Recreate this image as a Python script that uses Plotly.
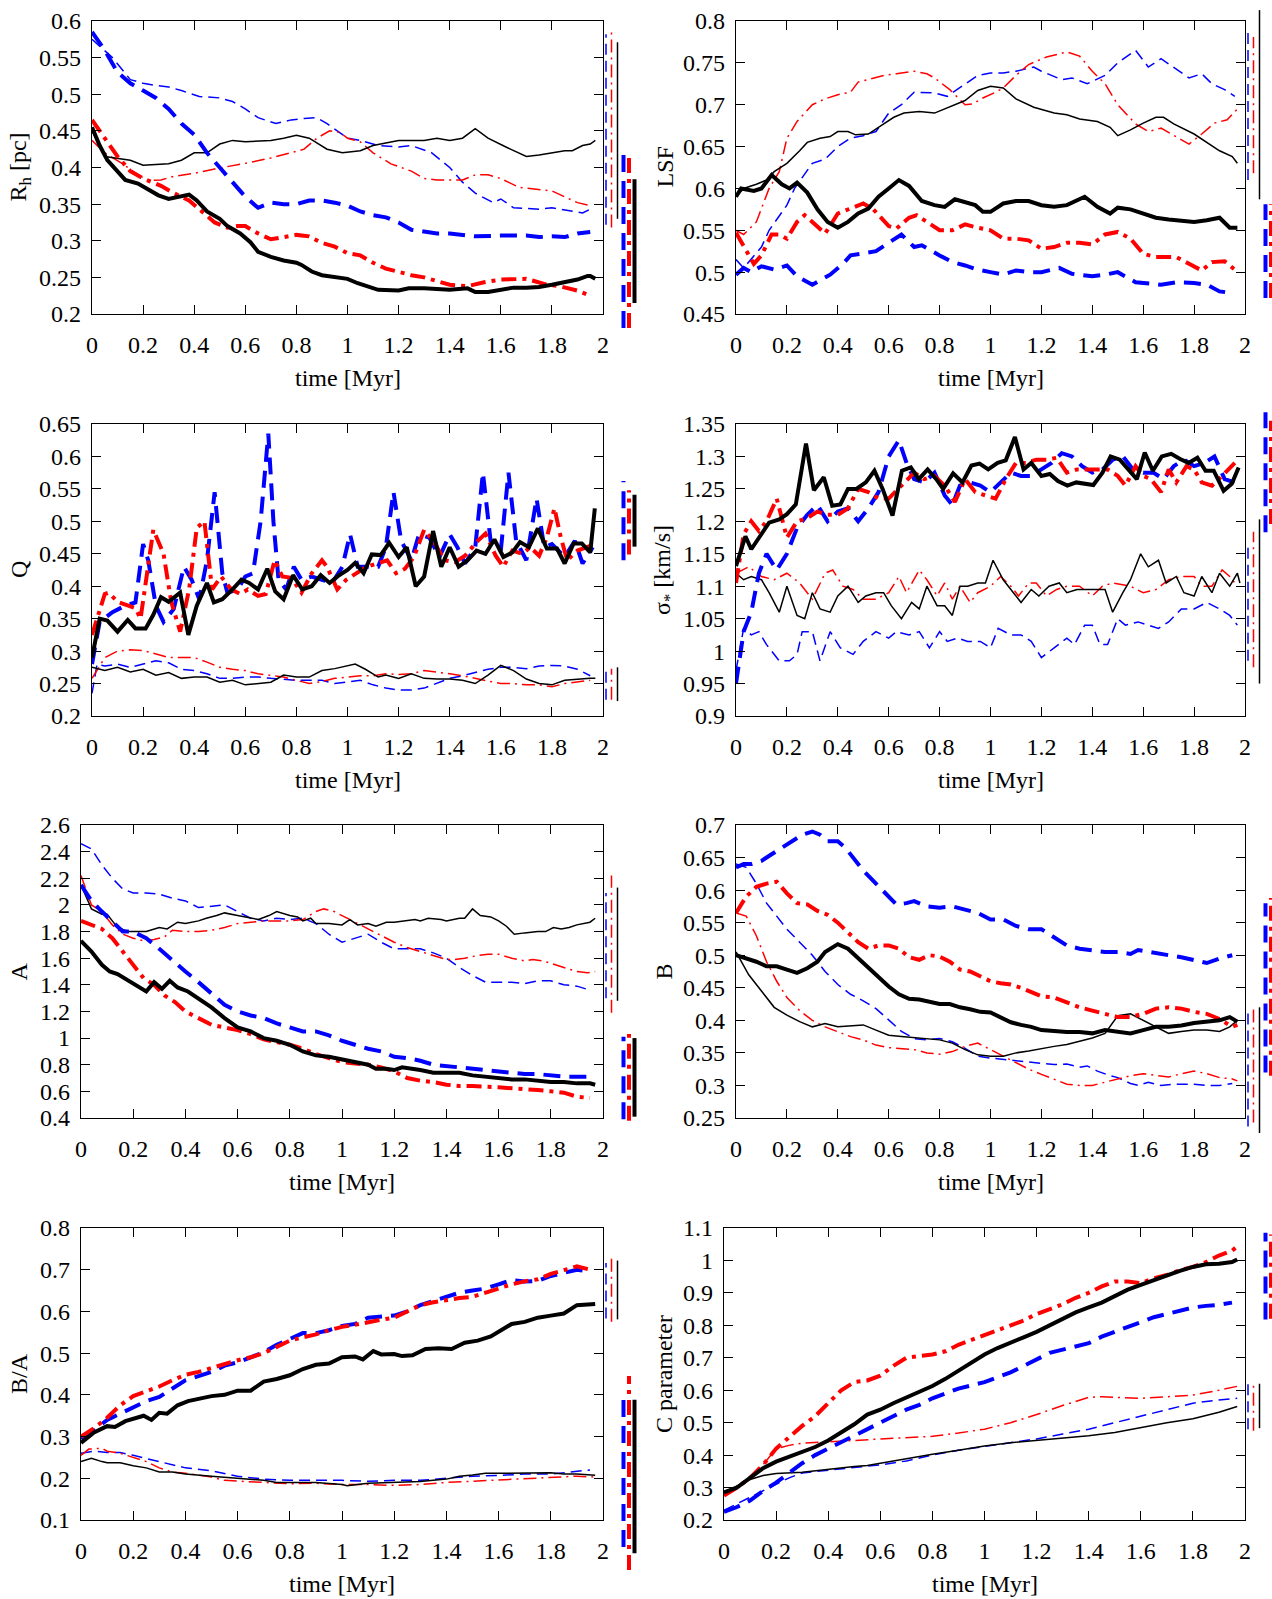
import plotly.graph_objects as go

W, H = 1272, 1599
FONT = "Liberation Serif"

X_TICKS = [0, 0.2, 0.4, 0.6, 0.8, 1.0, 1.2, 1.4, 1.6, 1.8, 2.0]
X_TICK_TEXT = ["0", "0.2", "0.4", "0.6", "0.8", "1", "1.2", "1.4", "1.6", "1.8", "2"]
X_TITLE = "time [Myr]"

# ---------------- Panel 1: R_h ----------------
RH_BLUE_THIN = [(0,0.575),(0.08,0.55),(0.15,0.52),(0.2,0.515),(0.25,0.512),(0.3,0.51),(0.35,0.505),(0.42,0.497),(0.5,0.495),(0.55,0.49),(0.6,0.48),(0.65,0.468),(0.72,0.46),(0.78,0.465),(0.83,0.467),(0.88,0.468),(0.92,0.46),(0.96,0.45),(1.0,0.44),(1.05,0.437),(1.12,0.43),(1.2,0.428),(1.25,0.43),(1.33,0.42),(1.4,0.4),(1.45,0.38),(1.5,0.365),(1.57,0.352),(1.6,0.357),(1.65,0.345),(1.75,0.343),(1.8,0.345),(1.88,0.34),(1.92,0.338),(1.95,0.343)]
RH_RED_THIN = [(0,0.437),(0.05,0.42),(0.12,0.405),(0.18,0.39),(0.22,0.382),(0.27,0.383),(0.32,0.388),(0.4,0.392),(0.48,0.398),(0.55,0.402),(0.62,0.407),(0.7,0.413),(0.78,0.42),(0.83,0.425),(0.88,0.44),(0.93,0.45),(0.97,0.448),(1.0,0.44),(1.05,0.435),(1.1,0.42),(1.17,0.405),(1.25,0.395),(1.3,0.385),(1.35,0.383),(1.45,0.383),(1.5,0.39),(1.55,0.39),(1.6,0.385),(1.67,0.373),(1.75,0.37),(1.8,0.368),(1.85,0.36),(1.9,0.352),(1.95,0.348)]
RH_BLACK_THIN = [(0,0.45),(0.05,0.415),(0.15,0.41),(0.2,0.403),(0.3,0.405),(0.35,0.41),(0.4,0.42),(0.45,0.42),(0.5,0.432),(0.55,0.437),(0.6,0.435),(0.7,0.437),(0.75,0.44),(0.8,0.444),(0.85,0.44),(0.92,0.425),(0.98,0.42),(1.05,0.423),(1.1,0.43),(1.2,0.437),(1.3,0.437),(1.35,0.44),(1.4,0.437),(1.45,0.44),(1.5,0.453),(1.55,0.44),(1.62,0.428),(1.7,0.415),(1.75,0.417),(1.8,0.42),(1.85,0.423),(1.88,0.423),(1.92,0.43),(1.95,0.432),(1.97,0.437)]
RH_BLUE_THICK = [(0,0.585),(0.05,0.56),(0.1,0.53),(0.15,0.515),(0.2,0.505),(0.25,0.495),(0.3,0.48),(0.35,0.46),(0.4,0.445),(0.45,0.42),(0.5,0.4),(0.55,0.38),(0.6,0.36),(0.65,0.345),(0.7,0.352),(0.75,0.35),(0.8,0.35),(0.85,0.355),(0.9,0.355),(0.95,0.352),(1.0,0.348),(1.05,0.34),(1.1,0.335),(1.15,0.332),(1.2,0.325),(1.25,0.315),(1.3,0.313),(1.35,0.31),(1.4,0.31),(1.45,0.308),(1.5,0.306),(1.6,0.307),(1.7,0.307),(1.75,0.305),(1.8,0.306),(1.85,0.305),(1.9,0.31),(1.95,0.312)]
RH_RED_THICK = [(0,0.465),(0.05,0.44),(0.1,0.415),(0.15,0.395),(0.2,0.385),(0.27,0.375),(0.32,0.365),(0.38,0.355),(0.43,0.34),(0.48,0.325),(0.53,0.318),(0.57,0.32),(0.6,0.32),(0.65,0.31),(0.7,0.302),(0.75,0.305),(0.8,0.308),(0.85,0.306),(0.9,0.297),(0.95,0.292),(1.0,0.283),(1.05,0.28),(1.1,0.27),(1.15,0.262),(1.2,0.257),(1.25,0.253),(1.3,0.25),(1.35,0.245),(1.4,0.24),(1.47,0.238),(1.53,0.243),(1.6,0.247),(1.65,0.248),(1.7,0.248),(1.73,0.245),(1.78,0.24),(1.83,0.238),(1.9,0.232),(1.95,0.225)]
RH_BLACK_THICK = [(0,0.455),(0.03,0.43),(0.06,0.41),(0.1,0.395),(0.13,0.383),(0.18,0.378),(0.22,0.37),(0.26,0.362),(0.3,0.357),(0.35,0.36),(0.38,0.363),(0.41,0.355),(0.45,0.34),(0.5,0.33),(0.53,0.32),(0.58,0.31),(0.62,0.298),(0.65,0.285),(0.7,0.278),(0.75,0.273),(0.8,0.27),(0.82,0.267),(0.86,0.258),(0.9,0.253),(0.95,0.25),(1.0,0.248),(1.04,0.242),(1.08,0.237),(1.12,0.233),(1.2,0.232),(1.24,0.235),(1.3,0.235),(1.35,0.234),(1.4,0.233),(1.47,0.235),(1.5,0.23),(1.55,0.23),(1.6,0.233),(1.65,0.236),(1.7,0.236),(1.75,0.237),(1.8,0.24),(1.85,0.243),(1.9,0.247),(1.94,0.252),(1.95,0.252),(1.97,0.248)]
RH_ERR = [(0.322,0.582),(0.318,0.586),(0.33,0.571),(0.181,0.418),(0.181,0.418),(0.215,0.384)]

# ---------------- Panel 2: LSF ----------------
LSF_BLUE_THIN = [(0,0.515),(0.03,0.505),(0.1,0.53),(0.13,0.55),(0.2,0.58),(0.23,0.6),(0.3,0.63),(0.35,0.635),(0.4,0.65),(0.45,0.66),(0.5,0.663),(0.55,0.668),(0.6,0.69),(0.65,0.7),(0.7,0.715),(0.78,0.714),(0.83,0.71),(0.88,0.72),(0.95,0.735),(1.0,0.738),(1.05,0.738),(1.1,0.74),(1.17,0.745),(1.2,0.74),(1.28,0.73),(1.32,0.732),(1.38,0.725),(1.45,0.735),(1.5,0.75),(1.57,0.765),(1.62,0.745),(1.67,0.755),(1.72,0.745),(1.78,0.732),(1.83,0.737),(1.87,0.725),(1.92,0.718),(1.96,0.71)]
LSF_RED_THIN = [(0,0.55),(0.03,0.545),(0.08,0.56),(0.13,0.6),(0.17,0.62),(0.2,0.66),(0.24,0.68),(0.3,0.7),(0.35,0.707),(0.4,0.712),(0.45,0.715),(0.48,0.727),(0.52,0.73),(0.58,0.735),(0.63,0.737),(0.7,0.74),(0.75,0.737),(0.78,0.732),(0.84,0.718),(0.9,0.7),(0.93,0.701),(0.97,0.708),(1.02,0.715),(1.05,0.72),(1.1,0.735),(1.15,0.748),(1.22,0.757),(1.28,0.762),(1.3,0.763),(1.35,0.758),(1.4,0.74),(1.45,0.725),(1.5,0.7),(1.57,0.677),(1.62,0.668),(1.67,0.672),(1.75,0.658),(1.78,0.653),(1.83,0.665),(1.88,0.678),(1.93,0.682),(1.97,0.695)]
LSF_BLACK_THIN = [(0,0.59),(0.03,0.6),(0.08,0.605),(0.12,0.61),(0.15,0.62),(0.2,0.63),(0.25,0.645),(0.28,0.655),(0.33,0.66),(0.37,0.662),(0.4,0.668),(0.44,0.668),(0.47,0.664),(0.52,0.665),(0.57,0.675),(0.62,0.685),(0.66,0.69),(0.72,0.692),(0.78,0.69),(0.82,0.695),(0.9,0.705),(0.95,0.717),(1.0,0.722),(1.05,0.72),(1.1,0.707),(1.17,0.697),(1.25,0.69),(1.3,0.688),(1.35,0.683),(1.42,0.68),(1.47,0.673),(1.5,0.663),(1.55,0.67),(1.6,0.678),(1.65,0.685),(1.68,0.685),(1.72,0.677),(1.8,0.665),(1.85,0.655),(1.9,0.645),(1.95,0.638),(1.97,0.63)]
LSF_BLUE_THICK = [(0,0.497),(0.03,0.505),(0.06,0.5),(0.1,0.507),(0.15,0.503),(0.2,0.508),(0.24,0.495),(0.3,0.485),(0.37,0.497),(0.42,0.51),(0.45,0.52),(0.5,0.523),(0.55,0.525),(0.6,0.535),(0.65,0.545),(0.7,0.53),(0.73,0.532),(0.8,0.52),(0.85,0.512),(0.9,0.508),(0.95,0.503),(1.0,0.5),(1.05,0.497),(1.1,0.502),(1.15,0.5),(1.2,0.5),(1.27,0.505),(1.32,0.498),(1.4,0.495),(1.45,0.497),(1.5,0.5),(1.57,0.488),(1.62,0.487),(1.67,0.485),(1.73,0.488),(1.8,0.487),(1.85,0.485),(1.9,0.477),(1.95,0.475)]
LSF_RED_THICK = [(0,0.547),(0.04,0.525),(0.07,0.51),(0.1,0.52),(0.14,0.545),(0.17,0.545),(0.2,0.54),(0.24,0.56),(0.27,0.568),(0.3,0.56),(0.35,0.546),(0.4,0.57),(0.44,0.575),(0.5,0.582),(0.54,0.575),(0.6,0.555),(0.63,0.552),(0.68,0.565),(0.71,0.568),(0.75,0.56),(0.8,0.55),(0.85,0.55),(0.9,0.557),(0.95,0.553),(1.0,0.55),(1.05,0.54),(1.1,0.54),(1.15,0.538),(1.2,0.528),(1.25,0.53),(1.3,0.535),(1.35,0.535),(1.4,0.533),(1.45,0.545),(1.5,0.548),(1.55,0.54),(1.6,0.522),(1.65,0.518),(1.7,0.518),(1.73,0.518),(1.78,0.51),(1.83,0.502),(1.87,0.512),(1.92,0.513),(1.96,0.503)]
LSF_BLACK_THICK = [(0,0.59),(0.02,0.6),(0.07,0.597),(0.1,0.6),(0.14,0.616),(0.18,0.605),(0.21,0.6),(0.24,0.607),(0.28,0.595),(0.32,0.575),(0.36,0.56),(0.4,0.553),(0.44,0.56),(0.48,0.57),(0.52,0.576),(0.56,0.59),(0.6,0.6),(0.64,0.61),(0.68,0.603),(0.73,0.585),(0.78,0.58),(0.82,0.578),(0.86,0.587),(0.9,0.583),(0.94,0.58),(0.97,0.572),(1.0,0.572),(1.05,0.582),(1.1,0.585),(1.15,0.585),(1.2,0.58),(1.25,0.578),(1.3,0.58),(1.37,0.59),(1.42,0.578),(1.47,0.57),(1.5,0.577),(1.55,0.575),(1.6,0.57),(1.65,0.565),(1.7,0.563),(1.75,0.562),(1.8,0.56),(1.85,0.562),(1.9,0.565),(1.94,0.553),(1.97,0.553)]
LSF_ERR = [(0.61,0.789),(0.618,0.781),(0.587,0.813),(0.469,0.581),(0.469,0.581),None]

# ---------------- Panel 3: Q ----------------
Q_BLUE_THIN = [(0,0.235),(0.02,0.28),(0.05,0.277),(0.1,0.28),(0.15,0.275),(0.2,0.28),(0.25,0.285),(0.3,0.282),(0.35,0.272),(0.4,0.27),(0.45,0.265),(0.5,0.258),(0.55,0.258),(0.6,0.26),(0.65,0.26),(0.7,0.258),(0.75,0.256),(0.8,0.255),(0.85,0.255),(0.9,0.255),(0.95,0.25),(1.0,0.252),(1.05,0.255),(1.1,0.248),(1.15,0.243),(1.2,0.24),(1.25,0.24),(1.3,0.243),(1.35,0.25),(1.4,0.258),(1.45,0.262),(1.5,0.267),(1.55,0.272),(1.6,0.275),(1.65,0.275),(1.7,0.273),(1.75,0.277),(1.8,0.278),(1.85,0.277),(1.9,0.272),(1.95,0.262)]
Q_RED_THIN = [(0,0.258),(0.05,0.29),(0.1,0.3),(0.15,0.302),(0.2,0.301),(0.25,0.295),(0.3,0.29),(0.35,0.29),(0.4,0.29),(0.45,0.283),(0.5,0.275),(0.55,0.272),(0.6,0.27),(0.65,0.265),(0.7,0.262),(0.75,0.26),(0.8,0.255),(0.85,0.25),(0.9,0.253),(0.95,0.258),(1.0,0.26),(1.05,0.262),(1.1,0.262),(1.15,0.265),(1.2,0.264),(1.25,0.265),(1.3,0.27),(1.35,0.268),(1.4,0.265),(1.45,0.262),(1.5,0.258),(1.55,0.253),(1.6,0.25),(1.65,0.25),(1.7,0.248),(1.75,0.248),(1.8,0.245),(1.85,0.25),(1.9,0.253),(1.95,0.255)]
Q_BLACK_THIN = [(0,0.275),(0.05,0.27),(0.1,0.275),(0.15,0.268),(0.2,0.272),(0.25,0.263),(0.3,0.267),(0.35,0.258),(0.4,0.26),(0.45,0.26),(0.5,0.252),(0.55,0.255),(0.6,0.248),(0.65,0.25),(0.7,0.252),(0.75,0.263),(0.8,0.26),(0.85,0.26),(0.9,0.27),(0.95,0.273),(1.0,0.277),(1.03,0.28),(1.07,0.272),(1.12,0.26),(1.15,0.263),(1.2,0.258),(1.25,0.265),(1.3,0.258),(1.35,0.257),(1.4,0.257),(1.45,0.255),(1.5,0.25),(1.55,0.263),(1.6,0.278),(1.65,0.27),(1.7,0.257),(1.75,0.25),(1.8,0.248),(1.85,0.255),(1.9,0.257),(1.95,0.258),(1.97,0.258)]
Q_BLUE_THICK = [(0,0.28),(0.03,0.345),(0.08,0.36),(0.13,0.37),(0.17,0.375),(0.2,0.465),(0.22,0.44),(0.25,0.37),(0.28,0.345),(0.32,0.365),(0.36,0.43),(0.39,0.41),(0.42,0.38),(0.45,0.44),(0.48,0.545),(0.51,0.42),(0.53,0.39),(0.57,0.395),(0.6,0.415),(0.63,0.42),(0.66,0.5),(0.68,0.6),(0.69,0.635),(0.71,0.5),(0.73,0.41),(0.76,0.395),(0.79,0.43),(0.82,0.41),(0.86,0.415),(0.9,0.41),(0.94,0.405),(0.98,0.43),(1.01,0.48),(1.04,0.43),(1.08,0.43),(1.12,0.43),(1.15,0.46),(1.18,0.545),(1.21,0.47),(1.25,0.44),(1.28,0.48),(1.32,0.475),(1.36,0.445),(1.4,0.48),(1.43,0.46),(1.46,0.435),(1.5,0.46),(1.53,0.575),(1.56,0.47),(1.6,0.455),(1.63,0.575),(1.66,0.47),(1.7,0.44),(1.74,0.535),(1.77,0.46),(1.8,0.465),(1.85,0.445),(1.89,0.47),(1.92,0.435),(1.96,0.46)]
Q_RED_THICK = [(0,0.325),(0.05,0.388),(0.065,0.39),(0.1,0.376),(0.17,0.366),(0.19,0.35),(0.24,0.487),(0.28,0.45),(0.31,0.376),(0.345,0.33),(0.38,0.395),(0.41,0.49),(0.44,0.5),(0.47,0.395),(0.505,0.415),(0.545,0.395),(0.58,0.388),(0.61,0.395),(0.65,0.385),(0.68,0.388),(0.715,0.44),(0.745,0.415),(0.78,0.413),(0.82,0.39),(0.86,0.42),(0.9,0.44),(0.92,0.43),(0.96,0.395),(0.995,0.41),(1.035,0.42),(1.075,0.43),(1.115,0.435),(1.155,0.44),(1.19,0.42),(1.225,0.427),(1.26,0.445),(1.3,0.487),(1.34,0.467),(1.38,0.44),(1.42,0.437),(1.46,0.447),(1.51,0.47),(1.54,0.481),(1.58,0.447),(1.61,0.43),(1.645,0.455),(1.685,0.45),(1.715,0.46),(1.75,0.447),(1.78,0.475),(1.81,0.52),(1.835,0.475),(1.86,0.44),(1.9,0.455),(1.94,0.46),(1.97,0.465)]
Q_BLACK_THICK = [(0,0.29),(0.03,0.35),(0.06,0.347),(0.1,0.33),(0.14,0.348),(0.17,0.335),(0.21,0.335),(0.24,0.356),(0.27,0.383),(0.3,0.376),(0.345,0.39),(0.377,0.325),(0.41,0.37),(0.45,0.405),(0.477,0.375),(0.51,0.38),(0.55,0.395),(0.585,0.41),(0.615,0.405),(0.65,0.395),(0.686,0.427),(0.717,0.392),(0.75,0.38),(0.787,0.417),(0.823,0.395),(0.86,0.4),(0.895,0.417),(0.93,0.405),(0.967,0.417),(1.0,0.425),(1.03,0.436),(1.063,0.42),(1.095,0.449),(1.13,0.448),(1.163,0.467),(1.2,0.445),(1.232,0.46),(1.267,0.4),(1.3,0.415),(1.335,0.485),(1.367,0.43),(1.4,0.46),(1.435,0.43),(1.47,0.44),(1.505,0.455),(1.54,0.45),(1.575,0.472),(1.61,0.445),(1.645,0.452),(1.675,0.468),(1.71,0.46),(1.745,0.489),(1.78,0.458),(1.82,0.458),(1.85,0.435),(1.885,0.466),(1.917,0.466),(1.95,0.452),(1.968,0.52)]
Q_ERR = [(0.225,0.273),(0.225,0.273),(0.223,0.275),(0.44,0.562),(0.449,0.548),(0.461,0.541)]

# ---------------- Panel 4: sigma ----------------
SIG_BLUE_THIN = [(0,0.97),(0.03,1.035),(0.06,1.025),(0.09,1.03),(0.12,1.01),(0.17,0.985),(0.21,0.985),(0.24,0.995),(0.26,1.03),(0.3,1.03),(0.33,0.985),(0.37,1.03),(0.41,1.005),(0.46,0.995),(0.5,1.015),(0.55,1.03),(0.6,1.02),(0.63,1.03),(0.68,1.025),(0.72,1.03),(0.76,1.005),(0.8,1.03),(0.83,1.015),(0.87,1.02),(0.91,1.015),(0.96,1.015),(1.0,1.005),(1.03,1.035),(1.08,1.025),(1.12,1.025),(1.16,1.015),(1.2,0.99),(1.25,1.005),(1.3,1.02),(1.33,1.01),(1.37,1.04),(1.4,1.04),(1.43,1.01),(1.46,1.01),(1.5,1.05),(1.53,1.04),(1.58,1.045),(1.62,1.04),(1.66,1.035),(1.7,1.045),(1.75,1.065),(1.8,1.065),(1.85,1.075),(1.9,1.065),(1.94,1.055),(1.97,1.04)]
SIG_RED_THIN = [(0,1.12),(0.05,1.13),(0.1,1.115),(0.15,1.11),(0.2,1.12),(0.25,1.105),(0.3,1.08),(0.35,1.12),(0.38,1.125),(0.42,1.1),(0.46,1.095),(0.5,1.08),(0.55,1.08),(0.6,1.09),(0.64,1.115),(0.67,1.09),(0.72,1.125),(0.75,1.11),(0.79,1.085),(0.82,1.105),(0.85,1.08),(0.88,1.1),(0.92,1.075),(0.95,1.09),(1.0,1.1),(1.04,1.115),(1.08,1.1),(1.11,1.085),(1.15,1.105),(1.18,1.105),(1.22,1.085),(1.26,1.095),(1.3,1.1),(1.35,1.1),(1.4,1.085),(1.44,1.1),(1.48,1.105),(1.55,1.1),(1.6,1.09),(1.65,1.095),(1.7,1.11),(1.75,1.115),(1.8,1.115),(1.83,1.1),(1.87,1.1),(1.91,1.125),(1.94,1.115),(1.97,1.1)]
SIG_BLACK_THIN = [(0,1.12),(0.03,1.11),(0.06,1.115),(0.1,1.11),(0.13,1.09),(0.17,1.06),(0.2,1.1),(0.24,1.055),(0.27,1.05),(0.3,1.09),(0.33,1.065),(0.37,1.06),(0.4,1.085),(0.44,1.1),(0.48,1.075),(0.51,1.085),(0.55,1.09),(0.58,1.09),(0.61,1.07),(0.65,1.05),(0.69,1.075),(0.72,1.065),(0.75,1.1),(0.79,1.07),(0.82,1.07),(0.85,1.055),(0.88,1.1),(0.91,1.1),(0.95,1.105),(0.98,1.105),(1.01,1.14),(1.05,1.11),(1.09,1.09),(1.12,1.075),(1.16,1.095),(1.19,1.085),(1.23,1.1),(1.27,1.105),(1.3,1.09),(1.34,1.095),(1.37,1.095),(1.41,1.095),(1.45,1.095),(1.48,1.06),(1.52,1.09),(1.55,1.11),(1.59,1.15),(1.62,1.13),(1.66,1.14),(1.69,1.105),(1.73,1.115),(1.76,1.09),(1.8,1.085),(1.83,1.115),(1.87,1.09),(1.9,1.12),(1.94,1.1),(1.97,1.12),(1.98,1.105)]
SIG_BLUE_THICK = [(0,0.95),(0.03,1.03),(0.06,1.06),(0.09,1.12),(0.12,1.15),(0.16,1.125),(0.2,1.15),(0.24,1.19),(0.28,1.21),(0.32,1.225),(0.36,1.2),(0.4,1.215),(0.44,1.22),(0.48,1.2),(0.52,1.22),(0.56,1.245),(0.6,1.3),(0.64,1.325),(0.67,1.29),(0.7,1.265),(0.74,1.26),(0.78,1.275),(0.82,1.24),(0.85,1.225),(0.88,1.255),(0.92,1.26),(0.96,1.255),(1.0,1.245),(1.04,1.26),(1.08,1.275),(1.12,1.27),(1.16,1.27),(1.2,1.28),(1.24,1.29),(1.28,1.305),(1.32,1.3),(1.36,1.285),(1.4,1.275),(1.44,1.28),(1.48,1.295),(1.52,1.3),(1.56,1.28),(1.6,1.275),(1.64,1.275),(1.68,1.265),(1.72,1.285),(1.76,1.295),(1.8,1.285),(1.84,1.29),(1.88,1.3),(1.92,1.265),(1.96,1.26)]
SIG_RED_THICK = [(0,1.105),(0.03,1.18),(0.06,1.2),(0.09,1.185),(0.12,1.2),(0.16,1.235),(0.2,1.175),(0.24,1.2),(0.28,1.205),(0.32,1.215),(0.36,1.21),(0.4,1.21),(0.44,1.22),(0.48,1.25),(0.52,1.245),(0.56,1.235),(0.6,1.235),(0.65,1.255),(0.7,1.275),(0.74,1.265),(0.78,1.27),(0.82,1.255),(0.86,1.23),(0.9,1.265),(0.94,1.245),(0.98,1.24),(1.02,1.235),(1.06,1.265),(1.1,1.29),(1.14,1.29),(1.18,1.295),(1.22,1.295),(1.26,1.298),(1.3,1.275),(1.34,1.28),(1.38,1.28),(1.42,1.28),(1.46,1.28),(1.5,1.27),(1.53,1.255),(1.57,1.285),(1.6,1.27),(1.63,1.265),(1.67,1.245),(1.7,1.28),(1.73,1.26),(1.77,1.285),(1.8,1.28),(1.83,1.26),(1.87,1.255),(1.91,1.27),(1.96,1.29)]
SIG_BLACK_THICK = [(0,1.131),(0.037,1.177),(0.06,1.157),(0.13,1.198),(0.17,1.203),(0.2,1.211),(0.235,1.226),(0.275,1.32),(0.306,1.248),(0.345,1.268),(0.378,1.224),(0.41,1.226),(0.44,1.25),(0.473,1.25),(0.51,1.26),(0.544,1.278),(0.576,1.25),(0.615,1.209),(0.652,1.278),(0.687,1.283),(0.718,1.265),(0.753,1.28),(0.787,1.265),(0.814,1.25),(0.853,1.274),(0.89,1.26),(0.925,1.286),(0.957,1.289),(0.991,1.28),(1.028,1.29),(1.06,1.294),(1.096,1.33),(1.13,1.28),(1.16,1.29),(1.2,1.27),(1.233,1.273),(1.265,1.262),(1.302,1.255),(1.337,1.26),(1.369,1.258),(1.404,1.256),(1.44,1.275),(1.472,1.3),(1.508,1.295),(1.54,1.28),(1.575,1.265),(1.606,1.306),(1.638,1.278),(1.673,1.3),(1.71,1.304),(1.745,1.296),(1.778,1.29),(1.813,1.298),(1.845,1.278),(1.877,1.278),(1.916,1.247),(1.948,1.258),(1.975,1.283)]
SIG_ERR = [(0.985,1.167),(0.975,1.184),(0.95,1.203),(1.183,1.368),(1.196,1.355),None]

# ---------------- Panel 5: A ----------------
A_BLUE_THIN = [(0,2.46),(0.04,2.42),(0.08,2.3),(0.12,2.2),(0.16,2.12),(0.2,2.09),(0.25,2.09),(0.3,2.08),(0.35,2.05),(0.4,2.03),(0.45,1.98),(0.5,1.99),(0.55,2.0),(0.6,1.95),(0.65,1.9),(0.7,1.88),(0.75,1.9),(0.8,1.89),(0.85,1.9),(0.9,1.86),(0.95,1.78),(1.0,1.72),(1.05,1.75),(1.1,1.78),(1.15,1.72),(1.2,1.67),(1.25,1.67),(1.3,1.67),(1.35,1.64),(1.4,1.6),(1.45,1.53),(1.5,1.47),(1.55,1.42),(1.6,1.42),(1.65,1.42),(1.7,1.41),(1.75,1.43),(1.8,1.43),(1.85,1.4),(1.9,1.39),(1.95,1.36)]
A_RED_THIN = [(0,2.22),(0.04,2.0),(0.08,1.95),(0.12,1.85),(0.16,1.78),(0.2,1.75),(0.24,1.73),(0.28,1.74),(0.32,1.76),(0.35,1.81),(0.4,1.8),(0.45,1.8),(0.5,1.81),(0.55,1.83),(0.6,1.86),(0.65,1.87),(0.7,1.88),(0.75,1.88),(0.8,1.88),(0.85,1.89),(0.9,1.95),(0.93,1.97),(0.97,1.95),(1.0,1.92),(1.05,1.87),(1.1,1.82),(1.15,1.77),(1.2,1.72),(1.25,1.68),(1.3,1.65),(1.35,1.62),(1.4,1.59),(1.43,1.59),(1.47,1.6),(1.52,1.62),(1.56,1.63),(1.6,1.63),(1.65,1.6),(1.7,1.58),(1.73,1.59),(1.77,1.58),(1.8,1.56),(1.85,1.53),(1.9,1.5),(1.94,1.49),(1.97,1.5)]
A_BLACK_THIN = [(0,2.15),(0.04,1.97),(0.08,1.93),(0.1,1.93),(0.12,1.88),(0.14,1.83),(0.18,1.8),(0.22,1.8),(0.25,1.8),(0.3,1.83),(0.33,1.82),(0.37,1.87),(0.4,1.86),(0.45,1.88),(0.48,1.9),(0.52,1.92),(0.55,1.94),(0.6,1.92),(0.65,1.9),(0.68,1.89),(0.72,1.92),(0.75,1.95),(0.8,1.92),(0.83,1.91),(0.85,1.88),(0.88,1.9),(0.9,1.86),(0.95,1.86),(1.0,1.85),(1.03,1.89),(1.06,1.85),(1.1,1.86),(1.13,1.84),(1.17,1.87),(1.2,1.87),(1.25,1.88),(1.28,1.89),(1.3,1.88),(1.33,1.9),(1.38,1.89),(1.4,1.88),(1.45,1.9),(1.47,1.9),(1.5,1.97),(1.53,1.92),(1.57,1.91),(1.6,1.88),(1.63,1.84),(1.66,1.78),(1.7,1.79),(1.75,1.8),(1.78,1.8),(1.81,1.83),(1.84,1.82),(1.87,1.83),(1.9,1.85),(1.95,1.87),(1.97,1.9)]
A_BLUE_THICK = [(0,2.15),(0.04,2.03),(0.08,1.95),(0.12,1.87),(0.16,1.8),(0.2,1.8),(0.25,1.75),(0.3,1.67),(0.35,1.58),(0.4,1.5),(0.45,1.42),(0.5,1.33),(0.55,1.25),(0.6,1.2),(0.65,1.17),(0.7,1.15),(0.75,1.11),(0.8,1.08),(0.85,1.05),(0.9,1.05),(0.95,1.02),(1.0,0.98),(1.05,0.95),(1.1,0.92),(1.15,0.9),(1.2,0.86),(1.25,0.85),(1.3,0.83),(1.35,0.8),(1.4,0.79),(1.45,0.78),(1.5,0.77),(1.55,0.76),(1.6,0.75),(1.65,0.74),(1.7,0.73),(1.75,0.73),(1.8,0.72),(1.85,0.71),(1.9,0.71),(1.95,0.71)]
A_RED_THICK = [(0,1.88),(0.04,1.85),(0.08,1.82),(0.12,1.75),(0.16,1.65),(0.2,1.55),(0.24,1.45),(0.28,1.4),(0.32,1.32),(0.36,1.27),(0.4,1.2),(0.45,1.15),(0.5,1.1),(0.55,1.08),(0.6,1.06),(0.65,1.03),(0.7,0.99),(0.75,0.97),(0.8,0.95),(0.85,0.92),(0.9,0.88),(0.95,0.85),(1.0,0.82),(1.05,0.81),(1.1,0.8),(1.15,0.78),(1.2,0.75),(1.25,0.7),(1.3,0.68),(1.35,0.67),(1.4,0.65),(1.45,0.64),(1.5,0.64),(1.6,0.63),(1.7,0.62),(1.75,0.61),(1.8,0.6),(1.85,0.59),(1.9,0.56),(1.95,0.55)]
A_BLACK_THICK = [(0,1.73),(0.04,1.65),(0.08,1.55),(0.11,1.5),(0.14,1.48),(0.18,1.43),(0.22,1.38),(0.25,1.35),(0.28,1.42),(0.31,1.37),(0.34,1.43),(0.37,1.38),(0.41,1.35),(0.45,1.3),(0.5,1.23),(0.55,1.15),(0.6,1.08),(0.65,1.05),(0.7,1.0),(0.75,0.98),(0.8,0.95),(0.85,0.9),(0.9,0.87),(0.95,0.86),(1.0,0.84),(1.05,0.82),(1.1,0.8),(1.13,0.77),(1.17,0.77),(1.2,0.76),(1.23,0.78),(1.3,0.76),(1.35,0.74),(1.4,0.74),(1.45,0.74),(1.5,0.72),(1.55,0.71),(1.6,0.7),(1.65,0.69),(1.7,0.69),(1.75,0.68),(1.8,0.67),(1.85,0.67),(1.9,0.66),(1.95,0.66),(1.97,0.65)]
A_ERR = [(1.3,2.09),(1.19,2.22),(1.28,2.13),(0.39,1.01),(0.38,1.03),(0.41,1.0)]

# ---------------- Panel 6: B ----------------
B_BLUE_THIN = [(0,0.64),(0.04,0.635),(0.08,0.61),(0.12,0.58),(0.16,0.56),(0.2,0.54),(0.25,0.52),(0.3,0.5),(0.35,0.475),(0.4,0.455),(0.45,0.44),(0.5,0.43),(0.55,0.418),(0.6,0.4),(0.65,0.383),(0.7,0.372),(0.75,0.37),(0.8,0.372),(0.85,0.367),(0.9,0.357),(0.95,0.345),(1.0,0.342),(1.05,0.34),(1.1,0.338),(1.15,0.336),(1.2,0.333),(1.25,0.332),(1.3,0.333),(1.35,0.328),(1.38,0.33),(1.42,0.322),(1.47,0.315),(1.5,0.312),(1.55,0.303),(1.58,0.3),(1.62,0.305),(1.67,0.3),(1.72,0.302),(1.8,0.302),(1.85,0.3),(1.9,0.3),(1.95,0.303)]
B_RED_THIN = [(0,0.565),(0.04,0.56),(0.08,0.53),(0.12,0.49),(0.16,0.46),(0.2,0.435),(0.25,0.415),(0.3,0.4),(0.35,0.39),(0.4,0.383),(0.45,0.375),(0.5,0.37),(0.55,0.362),(0.6,0.358),(0.65,0.357),(0.7,0.355),(0.75,0.35),(0.8,0.348),(0.85,0.352),(0.9,0.36),(0.95,0.365),(1.0,0.355),(1.05,0.345),(1.1,0.335),(1.15,0.325),(1.2,0.317),(1.25,0.31),(1.3,0.302),(1.35,0.3),(1.4,0.3),(1.45,0.305),(1.5,0.31),(1.55,0.315),(1.6,0.318),(1.65,0.315),(1.7,0.313),(1.75,0.318),(1.8,0.322),(1.85,0.318),(1.9,0.312),(1.95,0.31),(1.97,0.307)]
B_BLACK_THIN = [(0,0.505),(0.05,0.47),(0.1,0.445),(0.15,0.42),(0.2,0.408),(0.25,0.398),(0.3,0.39),(0.35,0.395),(0.4,0.39),(0.45,0.392),(0.5,0.393),(0.55,0.385),(0.6,0.377),(0.65,0.375),(0.7,0.373),(0.75,0.372),(0.8,0.37),(0.85,0.365),(0.9,0.355),(0.95,0.347),(1.0,0.345),(1.05,0.345),(1.1,0.35),(1.15,0.353),(1.2,0.357),(1.25,0.36),(1.3,0.363),(1.35,0.368),(1.4,0.373),(1.45,0.38),(1.5,0.407),(1.55,0.41),(1.6,0.4),(1.65,0.39),(1.7,0.38),(1.75,0.383),(1.8,0.385),(1.85,0.385),(1.9,0.383),(1.94,0.39),(1.97,0.4)]
B_BLUE_THICK = [(0,0.635),(0.03,0.64),(0.06,0.64),(0.1,0.645),(0.14,0.655),(0.18,0.665),(0.22,0.675),(0.26,0.685),(0.3,0.69),(0.33,0.685),(0.36,0.675),(0.4,0.675),(0.43,0.665),(0.47,0.645),(0.5,0.63),(0.55,0.61),(0.6,0.59),(0.63,0.578),(0.67,0.58),(0.7,0.583),(0.75,0.575),(0.8,0.573),(0.85,0.575),(0.9,0.57),(0.95,0.565),(1.0,0.555),(1.05,0.555),(1.1,0.545),(1.15,0.54),(1.2,0.54),(1.25,0.527),(1.3,0.515),(1.35,0.51),(1.4,0.507),(1.45,0.505),(1.5,0.505),(1.55,0.502),(1.58,0.508),(1.62,0.505),(1.7,0.5),(1.75,0.497),(1.8,0.493),(1.85,0.488),(1.9,0.495),(1.95,0.5)]
B_RED_THICK = [(0,0.565),(0.04,0.59),(0.08,0.605),(0.12,0.61),(0.16,0.613),(0.2,0.595),(0.24,0.58),(0.28,0.578),(0.32,0.568),(0.36,0.562),(0.4,0.55),(0.44,0.535),(0.48,0.52),(0.52,0.51),(0.56,0.515),(0.6,0.515),(0.64,0.51),(0.68,0.497),(0.72,0.493),(0.76,0.5),(0.8,0.498),(0.84,0.49),(0.88,0.478),(0.92,0.475),(0.96,0.468),(1.0,0.46),(1.04,0.457),(1.08,0.455),(1.12,0.45),(1.16,0.443),(1.2,0.437),(1.25,0.435),(1.3,0.428),(1.35,0.42),(1.4,0.415),(1.45,0.41),(1.5,0.405),(1.55,0.405),(1.6,0.41),(1.65,0.418),(1.7,0.42),(1.75,0.418),(1.8,0.413),(1.85,0.41),(1.9,0.402),(1.95,0.39),(1.97,0.393)]
B_BLACK_THICK = [(0,0.5),(0.04,0.495),(0.08,0.49),(0.12,0.483),(0.16,0.483),(0.2,0.478),(0.24,0.473),(0.28,0.48),(0.32,0.49),(0.35,0.505),(0.4,0.517),(0.44,0.51),(0.48,0.495),(0.52,0.48),(0.56,0.465),(0.6,0.452),(0.64,0.44),(0.68,0.433),(0.72,0.432),(0.76,0.428),(0.8,0.425),(0.84,0.425),(0.88,0.42),(0.92,0.417),(0.96,0.413),(1.0,0.412),(1.04,0.405),(1.08,0.397),(1.12,0.393),(1.16,0.39),(1.2,0.385),(1.25,0.383),(1.3,0.382),(1.35,0.382),(1.4,0.38),(1.45,0.385),(1.5,0.383),(1.55,0.38),(1.6,0.385),(1.65,0.39),(1.7,0.39),(1.75,0.392),(1.8,0.396),(1.85,0.398),(1.9,0.4),(1.94,0.405),(1.97,0.398)]
B_ERR = [(0.237,0.413),(0.243,0.42),(0.227,0.42),(0.32,0.58),(0.315,0.588),None]

# ---------------- Panel 7: B/A ----------------
BA_BLUE_THIN = [(0,0.26),(0.05,0.265),(0.1,0.262),(0.15,0.262),(0.2,0.255),(0.3,0.24),(0.4,0.225),(0.5,0.218),(0.6,0.205),(0.7,0.198),(0.8,0.195),(0.9,0.195),(1.0,0.195),(1.1,0.193),(1.2,0.195),(1.3,0.195),(1.4,0.2),(1.5,0.205),(1.6,0.207),(1.7,0.21),(1.8,0.21),(1.9,0.217),(1.95,0.22)]
BA_RED_THIN = [(0,0.255),(0.03,0.27),(0.08,0.272),(0.1,0.265),(0.15,0.26),(0.2,0.25),(0.25,0.24),(0.3,0.225),(0.35,0.215),(0.4,0.212),(0.5,0.203),(0.55,0.195),(0.6,0.193),(0.7,0.19),(0.8,0.187),(0.9,0.188),(1.0,0.185),(1.1,0.185),(1.2,0.183),(1.3,0.185),(1.4,0.19),(1.5,0.193),(1.6,0.197),(1.7,0.2),(1.8,0.202),(1.9,0.205),(1.97,0.203)]
BA_BLACK_THIN = [(0,0.24),(0.04,0.248),(0.08,0.24),(0.1,0.237),(0.15,0.237),(0.2,0.23),(0.25,0.225),(0.3,0.215),(0.35,0.215),(0.4,0.21),(0.5,0.205),(0.6,0.2),(0.7,0.195),(0.75,0.19),(0.8,0.19),(0.9,0.19),(1.0,0.185),(1.02,0.182),(1.1,0.188),(1.2,0.19),(1.3,0.192),(1.4,0.198),(1.45,0.205),(1.5,0.208),(1.55,0.212),(1.6,0.212),(1.7,0.213),(1.8,0.213),(1.85,0.21),(1.9,0.21),(1.97,0.207)]
BA_BLUE_THICK = [(0,0.295),(0.05,0.315),(0.1,0.34),(0.15,0.355),(0.2,0.37),(0.25,0.385),(0.3,0.395),(0.35,0.415),(0.4,0.435),(0.45,0.445),(0.5,0.455),(0.55,0.47),(0.6,0.478),(0.65,0.49),(0.7,0.502),(0.75,0.52),(0.8,0.535),(0.85,0.548),(0.9,0.548),(0.95,0.555),(1.0,0.565),(1.05,0.57),(1.1,0.585),(1.15,0.588),(1.2,0.59),(1.25,0.6),(1.3,0.615),(1.35,0.625),(1.4,0.635),(1.45,0.645),(1.5,0.65),(1.55,0.655),(1.6,0.665),(1.65,0.675),(1.7,0.672),(1.75,0.673),(1.8,0.685),(1.85,0.692),(1.9,0.7),(1.95,0.695)]
BA_RED_THICK = [(0,0.3),(0.05,0.32),(0.1,0.345),(0.15,0.375),(0.2,0.397),(0.25,0.408),(0.3,0.42),(0.35,0.435),(0.4,0.448),(0.45,0.455),(0.5,0.465),(0.55,0.475),(0.6,0.483),(0.65,0.49),(0.7,0.5),(0.75,0.515),(0.8,0.53),(0.85,0.538),(0.9,0.545),(0.95,0.555),(1.0,0.563),(1.05,0.568),(1.1,0.575),(1.15,0.58),(1.2,0.585),(1.25,0.6),(1.3,0.615),(1.35,0.622),(1.4,0.628),(1.45,0.632),(1.5,0.635),(1.55,0.645),(1.6,0.655),(1.65,0.665),(1.7,0.672),(1.75,0.677),(1.8,0.69),(1.85,0.7),(1.9,0.708),(1.95,0.7)]
BA_BLACK_THICK = [(0,0.285),(0.05,0.31),(0.1,0.325),(0.13,0.323),(0.17,0.337),(0.21,0.345),(0.24,0.35),(0.27,0.34),(0.3,0.357),(0.33,0.355),(0.37,0.375),(0.41,0.385),(0.45,0.39),(0.5,0.397),(0.55,0.4),(0.6,0.41),(0.65,0.41),(0.7,0.432),(0.75,0.438),(0.8,0.447),(0.85,0.462),(0.9,0.472),(0.95,0.475),(1.0,0.49),(1.05,0.492),(1.08,0.485),(1.12,0.505),(1.15,0.497),(1.2,0.498),(1.23,0.493),(1.27,0.495),(1.32,0.51),(1.37,0.512),(1.42,0.51),(1.47,0.525),(1.52,0.53),(1.57,0.54),(1.62,0.56),(1.65,0.57),(1.7,0.575),(1.75,0.585),(1.8,0.59),(1.85,0.595),(1.9,0.615),(1.97,0.618)]
BA_ERR = [(0.583,0.716),(0.575,0.728),(0.581,0.722),(0.035,0.392),(-0.02,0.445),(0.02,0.388)]

# ---------------- Panel 8: C parameter ----------------
C_BLUE_THIN = [(0,0.23),(0.1,0.27),(0.2,0.31),(0.25,0.33),(0.3,0.345),(0.4,0.353),(0.5,0.36),(0.6,0.37),(0.7,0.382),(0.8,0.4),(0.9,0.415),(1.0,0.427),(1.1,0.44),(1.2,0.45),(1.3,0.465),(1.4,0.48),(1.5,0.5),(1.6,0.52),(1.7,0.54),(1.8,0.56),(1.9,0.57),(1.97,0.575)]
C_RED_THIN = [(0,0.28),(0.05,0.3),(0.1,0.33),(0.15,0.37),(0.2,0.42),(0.25,0.43),(0.3,0.437),(0.4,0.44),(0.5,0.445),(0.6,0.45),(0.7,0.455),(0.8,0.458),(0.9,0.468),(1.0,0.48),(1.1,0.5),(1.2,0.525),(1.3,0.553),(1.4,0.578),(1.45,0.58),(1.5,0.578),(1.6,0.575),(1.7,0.58),(1.8,0.585),(1.9,0.6),(1.97,0.612)]
C_BLACK_THIN = [(0,0.285),(0.05,0.305),(0.1,0.325),(0.15,0.337),(0.2,0.343),(0.3,0.347),(0.4,0.357),(0.5,0.365),(0.55,0.368),(0.6,0.375),(0.7,0.39),(0.8,0.403),(0.9,0.415),(1.0,0.428),(1.1,0.438),(1.2,0.445),(1.3,0.453),(1.4,0.46),(1.5,0.47),(1.6,0.485),(1.7,0.5),(1.8,0.512),(1.9,0.532),(1.97,0.55)]
C_BLUE_THICK = [(0,0.225),(0.05,0.24),(0.1,0.26),(0.15,0.29),(0.2,0.315),(0.25,0.345),(0.3,0.375),(0.35,0.4),(0.4,0.42),(0.45,0.44),(0.5,0.46),(0.55,0.48),(0.6,0.5),(0.65,0.52),(0.7,0.54),(0.75,0.555),(0.8,0.575),(0.85,0.59),(0.9,0.605),(0.95,0.615),(1.0,0.625),(1.05,0.64),(1.1,0.655),(1.15,0.675),(1.2,0.695),(1.25,0.715),(1.3,0.725),(1.35,0.735),(1.4,0.745),(1.45,0.765),(1.5,0.78),(1.55,0.795),(1.6,0.81),(1.65,0.825),(1.7,0.835),(1.75,0.845),(1.8,0.855),(1.85,0.86),(1.9,0.863),(1.95,0.87)]
C_RED_THICK = [(0,0.275),(0.05,0.3),(0.1,0.33),(0.15,0.37),(0.2,0.42),(0.25,0.455),(0.3,0.49),(0.35,0.52),(0.4,0.56),(0.45,0.6),(0.5,0.625),(0.55,0.63),(0.6,0.645),(0.65,0.675),(0.7,0.7),(0.75,0.705),(0.8,0.71),(0.85,0.72),(0.9,0.74),(0.95,0.755),(1.0,0.77),(1.05,0.785),(1.1,0.8),(1.15,0.815),(1.2,0.835),(1.25,0.85),(1.3,0.865),(1.35,0.885),(1.4,0.9),(1.45,0.92),(1.5,0.935),(1.55,0.935),(1.6,0.93),(1.65,0.945),(1.7,0.955),(1.75,0.97),(1.8,0.98),(1.85,0.995),(1.9,1.015),(1.95,1.03),(1.97,1.043)]
C_BLACK_THICK = [(0,0.285),(0.05,0.3),(0.1,0.33),(0.15,0.36),(0.2,0.38),(0.25,0.395),(0.3,0.41),(0.35,0.425),(0.4,0.445),(0.45,0.47),(0.5,0.495),(0.55,0.525),(0.6,0.54),(0.65,0.56),(0.7,0.578),(0.75,0.595),(0.8,0.613),(0.85,0.635),(0.9,0.66),(0.95,0.685),(1.0,0.71),(1.05,0.73),(1.1,0.745),(1.15,0.763),(1.2,0.78),(1.25,0.8),(1.3,0.82),(1.35,0.84),(1.4,0.855),(1.45,0.87),(1.5,0.89),(1.55,0.91),(1.6,0.925),(1.65,0.94),(1.7,0.955),(1.75,0.968),(1.8,0.98),(1.85,0.988),(1.9,0.99),(1.95,0.995),(1.97,1.003)]
C_ERR = [(0.48,0.62),(0.475,0.628),(0.483,0.62),(0.818,1.085),(0.82,1.08),None]

# ---------------- panel configuration ----------------
PANELS = [
    ("R<sub>h</sub> [pc]", [0.2, 0.6], 0.05,
     [RH_BLUE_THIN, RH_RED_THIN, RH_BLACK_THIN, RH_BLUE_THICK, RH_RED_THICK, RH_BLACK_THICK], RH_ERR),
    ("LSF", [0.45, 0.8], 0.05,
     [LSF_BLUE_THIN, LSF_RED_THIN, LSF_BLACK_THIN, LSF_BLUE_THICK, LSF_RED_THICK, LSF_BLACK_THICK], LSF_ERR),
    ("Q", [0.2, 0.65], 0.05,
     [Q_BLUE_THIN, Q_RED_THIN, Q_BLACK_THIN, Q_BLUE_THICK, Q_RED_THICK, Q_BLACK_THICK], Q_ERR),
    ("σ<sub>*</sub> [km/s]", [0.9, 1.35], 0.05,
     [SIG_BLUE_THIN, SIG_RED_THIN, SIG_BLACK_THIN, SIG_BLUE_THICK, SIG_RED_THICK, SIG_BLACK_THICK], SIG_ERR),
    ("A", [0.4, 2.6], 0.2,
     [A_BLUE_THIN, A_RED_THIN, A_BLACK_THIN, A_BLUE_THICK, A_RED_THICK, A_BLACK_THICK], A_ERR),
    ("B", [0.25, 0.7], 0.05,
     [B_BLUE_THIN, B_RED_THIN, B_BLACK_THIN, B_BLUE_THICK, B_RED_THICK, B_BLACK_THICK], B_ERR),
    ("B/A", [0.1, 0.8], 0.1,
     [BA_BLUE_THIN, BA_RED_THIN, BA_BLACK_THIN, BA_BLUE_THICK, BA_RED_THICK, BA_BLACK_THICK], BA_ERR),
    ("C parameter", [0.2, 1.1], 0.1,
     [C_BLUE_THIN, C_RED_THIN, C_BLACK_THIN, C_BLUE_THICK, C_RED_THICK, C_BLACK_THICK], C_ERR),
]

# layout geometry in pixels: (left, right, top, bottom) of each plot frame
GEOM = [
    (92, 603, 21, 314), (736, 1245, 21, 314),
    (92, 603, 424, 716), (736, 1245, 424, 716),
    (81, 603, 825, 1118), (736, 1245, 825, 1118),
    (81, 603, 1228, 1520), (724, 1245, 1228, 1520),
]
YTITLE_X = [19, 664]
FS = 24

STYLES = [
    dict(color="#0000ff", width=1.5, dash="11px,6px"),
    dict(color="#ff0000", width=1.5, dash="13px,5px,2px,5px"),
    dict(color="#000000", width=1.5, dash="solid"),
    dict(color="#0000ff", width=4, dash="17px,9px"),
    dict(color="#ff0000", width=4, dash="15px,6px,4px,6px"),
    dict(color="#000000", width=4, dash="solid"),
]
ERR_X = [3, 8.5, 14.5, 20.5, 26, 31.5]

fig = go.Figure()
layout = dict(
    template="none",
    width=W, height=H, autosize=False,
    margin=dict(l=0, r=0, t=0, b=0, pad=0, autoexpand=False),
    paper_bgcolor="white", plot_bgcolor="rgba(0,0,0,0)",
    showlegend=False,
    font=dict(family=FONT, size=FS, color="black"),
    annotations=[],
)

axis_common = dict(
    ticks="inside", ticklen=9, tickwidth=1.2, tickcolor="black",
    showline=True, linecolor="black", linewidth=1.3, mirror="ticks",
    showgrid=False, zeroline=False, automargin=False,
    tickfont=dict(family=FONT, size=FS, color="black"),
)

for i, (ytitle, yr, ystep, series, errs) in enumerate(PANELS, start=1):
    l, r, t, b = GEOM[i - 1]
    nt = int(round((yr[1] - yr[0]) / ystep))
    yticks = [round(yr[0] + k * ystep, 4) for k in range(nt + 1)]
    layout[f"xaxis{i}"] = dict(axis_common, domain=[l / W, r / W], anchor=f"y{i}",
                               range=[0, 2], tickvals=X_TICKS, ticktext=X_TICK_TEXT,
                               ticklabelstandoff=9)
    layout[f"yaxis{i}"] = dict(axis_common, domain=[1 - b / H, 1 - t / H], anchor=f"x{i}",
                               range=yr, tickvals=yticks, ticktext=[f"{v:g}" for v in yticks],
                               ticklabelstandoff=5)
    # strip to the right of the frame, sharing the same vertical scale, for the error bars
    sw = min(40, W - r)
    ext_t = min(60, t)
    ext_b = min(79, H - b)
    per_px = (yr[1] - yr[0]) / (b - t)
    layout[f"xaxis{i + 8}"] = dict(domain=[r / W, (r + sw) / W], anchor=f"y{i + 8}",
                                   range=[0, sw], visible=False, fixedrange=True,
                                   automargin=False)
    layout[f"yaxis{i + 8}"] = dict(domain=[1 - (b + ext_b) / H, 1 - (t - ext_t) / H],
                                   anchor=f"x{i + 8}",
                                   range=[yr[0] - ext_b * per_px, yr[1] + ext_t * per_px],
                                   visible=False, fixedrange=True, automargin=False)

    for k, s in enumerate(series):
        fig.add_trace(go.Scatter(
            x=[p[0] for p in s], y=[p[1] for p in s], mode="lines",
            line=STYLES[k], xaxis=f"x{i}", yaxis=f"y{i}", hoverinfo="skip"))
    for k, e in enumerate(errs):
        if e is None:
            continue
        fig.add_trace(go.Scatter(
            x=[ERR_X[k], ERR_X[k]], y=[e[0], e[1]], mode="lines",
            line=STYLES[k], xaxis=f"x{i + 8}", yaxis=f"y{i + 8}", hoverinfo="skip"))

    col = (i - 1) % 2
    layout["annotations"].append(dict(
        text=ytitle, xref="paper", yref="paper",
        x=YTITLE_X[col] / W, y=1 - (t + b) / 2 / H, xanchor="center", yanchor="middle",
        textangle=-90, showarrow=False, font=dict(family=FONT, size=FS, color="black")))
    layout["annotations"].append(dict(
        text=X_TITLE, xref="paper", yref="paper",
        x=(l + r) / 2 / W, y=1 - (b + 64) / H, xanchor="center", yanchor="middle",
        showarrow=False, font=dict(family=FONT, size=FS, color="black")))

fig.update_layout(**layout)
fig.write_html("out.html")
